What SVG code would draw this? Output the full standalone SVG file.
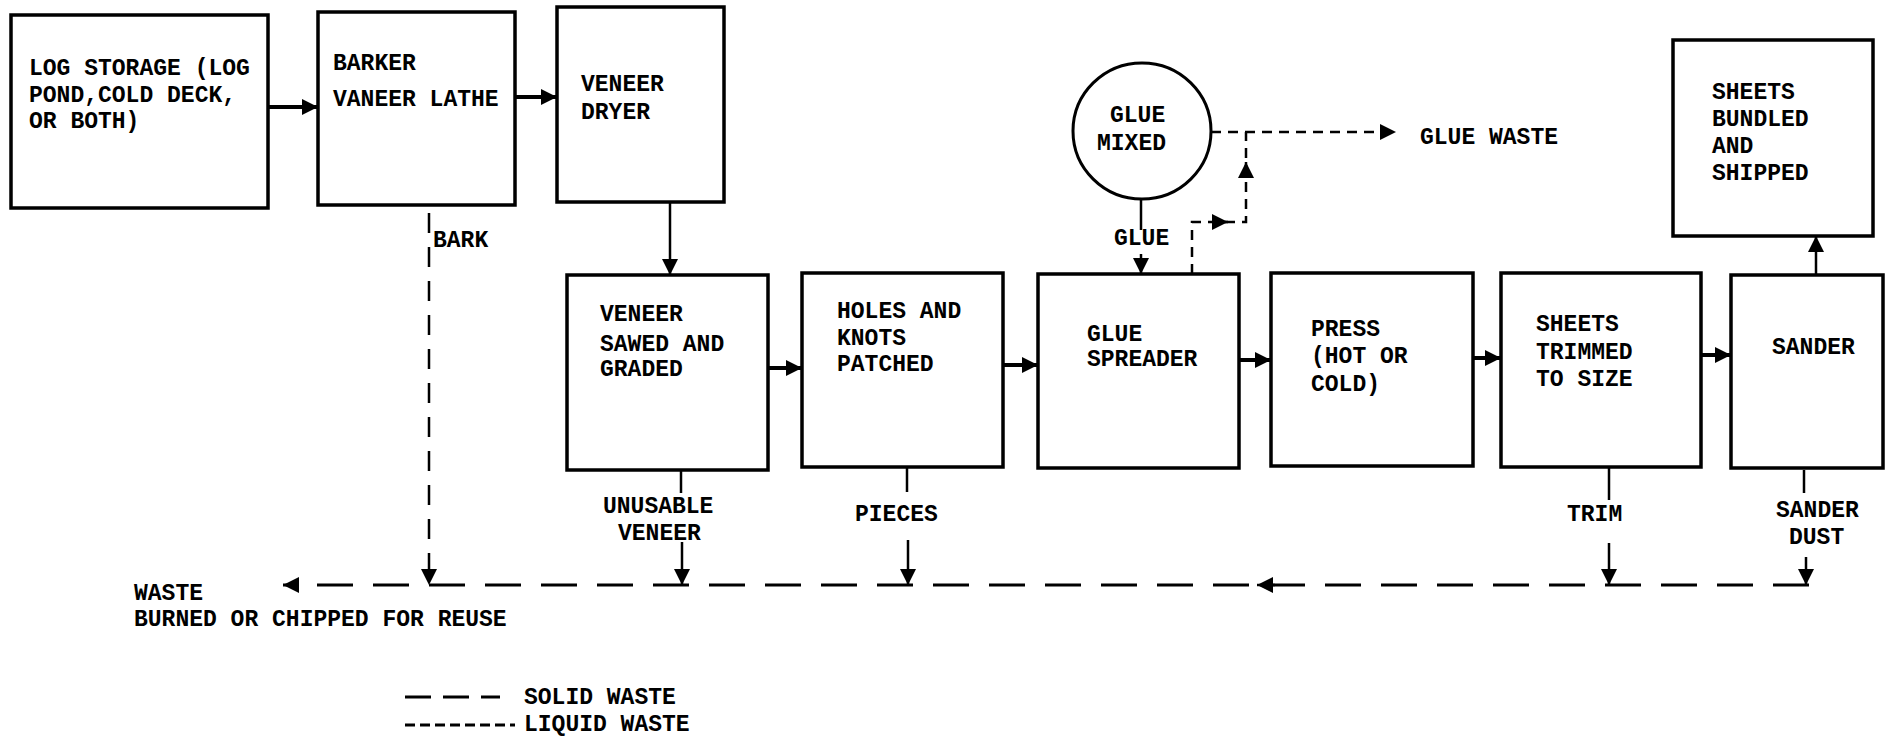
<svg xmlns="http://www.w3.org/2000/svg" width="1885" height="740" viewBox="0 0 1885 740">
<style>
.box{fill:#fff;stroke:#000;stroke-width:3.5}
.t{font-family:"Liberation Mono","Courier New",monospace;font-weight:bold;font-size:23px;fill:#000}
.flow{fill:none;stroke:#000;stroke-width:4}
.thin{fill:none;stroke:#000;stroke-width:2.5}
.solidw{fill:none;stroke:#000;stroke-width:3;stroke-dasharray:36 20}
.bark{fill:none;stroke:#000;stroke-width:2.5;stroke-dasharray:20 14}
.liq{fill:none;stroke:#000;stroke-width:2.5;stroke-dasharray:10 7}
</style>
<defs>
<marker id="ah" markerUnits="userSpaceOnUse" markerWidth="18" markerHeight="18" refX="16" refY="8" orient="auto">
<path d="M0,0 L16,8 L0,16 Z" fill="#000"/>
</marker>
</defs>
<rect width="1885" height="740" fill="#fff"/>

<g id="log-storage">
<rect class="box" x="11" y="15" width="257" height="193"/>
<text class="t" x="29" y="75">LOG STORAGE (LOG</text>
<text class="t" x="29" y="102">POND,COLD DECK,</text>
<text class="t" x="29" y="128">OR BOTH)</text>
</g>
<g id="barker">
<rect class="box" x="318" y="12" width="197" height="193"/>
<text class="t" x="333" y="70">BARKER</text>
<text class="t" x="333" y="106">VANEER LATHE</text>
</g>
<g id="veneer-dryer">
<rect class="box" x="557" y="7" width="167" height="195"/>
<text class="t" x="581" y="91">VENEER</text>
<text class="t" x="581" y="119">DRYER</text>
</g>
<g id="glue-mixed">
<ellipse cx="1142" cy="131" rx="69" ry="68" fill="#fff" stroke="#000" stroke-width="3"/>
<text class="t" x="1110" y="122">GLUE</text>
<text class="t" x="1097" y="150">MIXED</text>
</g>
<g id="sheets-bundled">
<rect class="box" x="1673" y="40" width="200" height="196"/>
<text class="t" x="1712" y="99">SHEETS</text>
<text class="t" x="1712" y="126">BUNDLED</text>
<text class="t" x="1712" y="153">AND</text>
<text class="t" x="1712" y="180">SHIPPED</text>
</g>
<g id="veneer-sawed">
<rect class="box" x="567" y="275" width="201" height="195"/>
<text class="t" x="600" y="321">VENEER</text>
<text class="t" x="600" y="351">SAWED AND</text>
<text class="t" x="600" y="376">GRADED</text>
</g>
<g id="holes-patched">
<rect class="box" x="802" y="273" width="201" height="194"/>
<text class="t" x="837" y="318">HOLES AND</text>
<text class="t" x="837" y="345">KNOTS</text>
<text class="t" x="837" y="371">PATCHED</text>
</g>
<g id="glue-spreader">
<rect class="box" x="1038" y="274" width="201" height="194"/>
<text class="t" x="1087" y="341">GLUE</text>
<text class="t" x="1087" y="366">SPREADER</text>
</g>
<g id="press">
<rect class="box" x="1271" y="273" width="202" height="193"/>
<text class="t" x="1311" y="336">PRESS</text>
<text class="t" x="1311" y="363">(HOT OR</text>
<text class="t" x="1311" y="391">COLD)</text>
</g>
<g id="sheets-trimmed">
<rect class="box" x="1501" y="273" width="200" height="194"/>
<text class="t" x="1536" y="331">SHEETS</text>
<text class="t" x="1536" y="359">TRIMMED</text>
<text class="t" x="1536" y="386">TO SIZE</text>
</g>
<g id="sander">
<rect class="box" x="1731" y="275" width="152" height="193"/>
<text class="t" x="1772" y="354">SANDER</text>
</g>

<g id="connectors">
<path class="flow" d="M268,107 H318" marker-end="url(#ah)"/>
<path class="flow" d="M515,97 H557" marker-end="url(#ah)"/>
<path class="thin" d="M670,202 V275" marker-end="url(#ah)"/>
<path class="flow" d="M768,368 H802" marker-end="url(#ah)"/>
<path class="flow" d="M1003,365 H1038" marker-end="url(#ah)"/>
<path class="flow" d="M1239,360 H1271" marker-end="url(#ah)"/>
<path class="flow" d="M1473,358 H1501" marker-end="url(#ah)"/>
<path class="flow" d="M1701,355 H1731" marker-end="url(#ah)"/>
<path class="thin" d="M1816,275 V236" marker-end="url(#ah)"/>
<path class="thin" d="M1141,199 V230"/>
<path class="thin" d="M1141,254 V274" marker-end="url(#ah)"/>
<text class="t" x="1114" y="245">GLUE</text>
<path class="liq" d="M1192,274 V222 H1246 V132"/>
<path class="thin" d="M1212,222 H1228" marker-end="url(#ah)"/>
<path class="thin" d="M1246,178 V162" marker-end="url(#ah)"/>
<path class="liq" d="M1211,132 H1396" marker-end="url(#ah)"/>
<text class="t" x="1420" y="144">GLUE WASTE</text>
<path class="solidw" d="M1809,585 H283" marker-end="url(#ah)"/>
<path class="thin" d="M1275,585 H1257" marker-end="url(#ah)"/>
<path class="bark" d="M429,213 V585" marker-end="url(#ah)"/>
<text class="t" x="433" y="247">BARK</text>
<path class="thin" d="M681,470 V493"/>
<path class="thin" d="M682,542 V585" marker-end="url(#ah)"/>
<text class="t" x="603" y="513">UNUSABLE</text>
<text class="t" x="618" y="540">VENEER</text>
<path class="thin" d="M907,467 V492"/>
<path class="thin" d="M908,540 V585" marker-end="url(#ah)"/>
<text class="t" x="855" y="521">PIECES</text>
<path class="thin" d="M1609,468 V500"/>
<path class="thin" d="M1609,543 V585" marker-end="url(#ah)"/>
<text class="t" x="1567" y="521">TRIM</text>
<path class="thin" d="M1804,470 V493"/>
<path class="thin" d="M1806,557 V585" marker-end="url(#ah)"/>
<text class="t" x="1776" y="517">SANDER</text>
<text class="t" x="1789" y="544">DUST</text>
</g>

<g id="waste">
<text class="t" x="134" y="600">WASTE</text>
<text class="t" x="134" y="626">BURNED OR CHIPPED FOR REUSE</text>
</g>

<g id="legend">
<path d="M405,697 H500" fill="none" stroke="#000" stroke-width="3" stroke-dasharray="26 12"/>
<text class="t" x="524" y="704">SOLID WASTE</text>
<path d="M405,725 H515" fill="none" stroke="#000" stroke-width="3" stroke-dasharray="10 5"/>
<text class="t" x="524" y="731">LIQUID WASTE</text>
</g>
</svg>
